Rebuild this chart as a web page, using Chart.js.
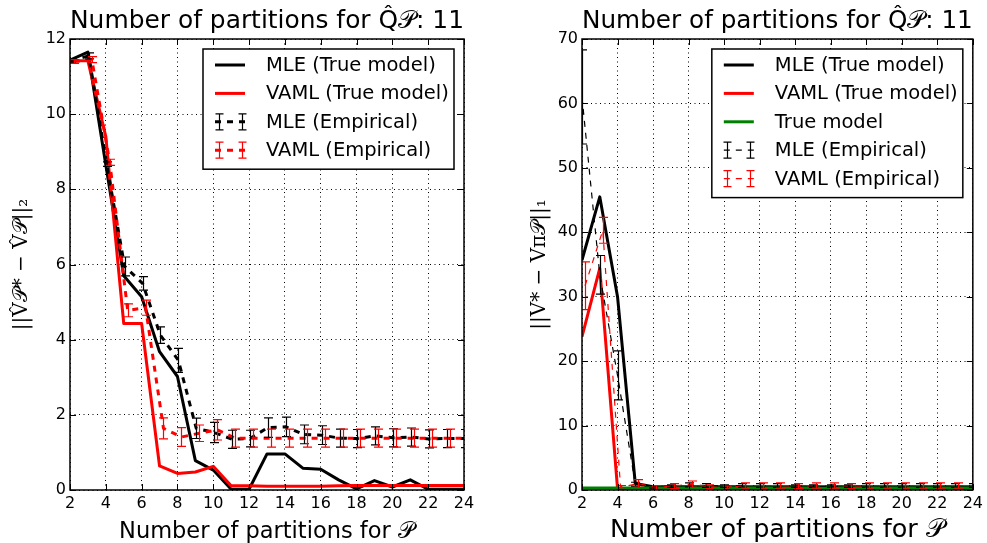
<!DOCTYPE html>
<html>
<head>
<meta charset="utf-8">
<script src="https://cdn.jsdelivr.net/npm/chart.js@4.4.1/dist/chart.umd.min.js"></script>
<style>
  html, body { margin: 0; padding: 0; background: #fff; }
  #wrap { position: relative; width: 987px; height: 543px; overflow: hidden; }
  #wrap canvas { position: absolute; top: 0; }
</style>
</head>
<body>
<div id="wrap">
  <canvas id="leftChart" width="493" height="543" style="left:0"></canvas>
  <canvas id="rightChart" width="494" height="543" style="left:493px"></canvas>
</div>
<script>
"use strict";

/* ── data ─────────────────────────────────────────────── */
const partitions = [2, 3, 4, 5, 6, 7, 8, 9, 10, 11, 12, 13, 14, 15, 16, 17, 18, 19, 20, 21, 22, 23, 24];
const xTickVals = [2, 4, 6, 8, 10, 12, 14, 16, 18, 20, 22, 24];
const yTickValsL = [0, 2, 4, 6, 8, 10, 12];
const yTickValsR = [0, 10, 20, 30, 40, 50, 60, 70];

// left panel: ||V_P* - V_P||_2
const mleTrueL  = [11.44, 11.65, 8.65, 5.7, 5.14, 3.68, 3.02, 0.78, 0.53, 0.02, 0.02, 0.96, 0.96, 0.58, 0.55, 0.27, 0.03, 0.25, 0.08, 0.27, 0.02, 0.02, 0.02];
const vamlTrueL = [11.42, 11.42, 9.4, 4.43, 4.43, 0.64, 0.44, 0.48, 0.63, 0.11, 0.11, 0.1, 0.1, 0.1, 0.1, 0.11, 0.12, 0.12, 0.12, 0.12, 0.12, 0.12, 0.12];
const mleEmpL   = [11.42, 11.55, 8.67, 5.95, 5.5, 4.12, 3.45, 1.64, 1.53, 1.35, 1.37, 1.66, 1.68, 1.48, 1.46, 1.38, 1.37, 1.44, 1.39, 1.41, 1.36, 1.37, 1.37];
const mleErrL   = [0.04, 0.08, 0.06, 0.25, 0.18, 0.22, 0.32, 0.27, 0.27, 0.24, 0.22, 0.26, 0.26, 0.25, 0.25, 0.24, 0.24, 0.24, 0.24, 0.24, 0.24, 0.24, 0.24];
const vamlEmpL  = [11.4, 11.45, 8.72, 4.78, 4.85, 1.64, 1.41, 1.51, 1.6, 1.38, 1.38, 1.38, 1.38, 1.38, 1.38, 1.38, 1.38, 1.38, 1.38, 1.38, 1.38, 1.38, 1.38];
const vamlErrL  = [0.05, 0.08, 0.08, 0.17, 0.2, 0.28, 0.25, 0.22, 0.27, 0.24, 0.24, 0.24, 0.24, 0.24, 0.24, 0.24, 0.24, 0.24, 0.24, 0.24, 0.24, 0.24, 0.24];
const empShiftL = [0.05, 0.22];   // x jitter of the empirical curves (MLE, VAML)

// right panel: ||V* - V^pi_P||_1
const mleTrueR  = [35.7, 45.5, 30.0, 1.0, 0.5, 0.5, 0.5, 0.5, 0.5, 0.5, 0.5, 0.5, 0.5, 0.5, 0.5, 0.5, 0.5, 0.5, 0.5, 0.5, 0.5, 0.5, 0.5];
const vamlTrueR = [23.8, 34.4, 0.2, 0.2, 0.2, 0.2, 0.2, 0.2, 0.2, 0.2, 0.2, 0.2, 0.2, 0.2, 0.2, 0.2, 0.2, 0.2, 0.2, 0.2, 0.2, 0.2, 0.2];
const trueModelR = [0.3, 0.3, 0.3, 0.3, 0.3, 0.3, 0.3, 0.3, 0.3, 0.3, 0.3, 0.3, 0.3, 0.3, 0.3, 0.3, 0.3, 0.3, 0.3, 0.3, 0.3, 0.3, 0.3];
const mleEmpR   = [61.0, 33.4, 17.8, 0.9, 0.5, 0.6, 0.8, 0.7, 0.6, 0.7, 0.7, 0.7, 0.6, 0.6, 0.6, 0.6, 0.7, 0.7, 0.7, 0.7, 0.7, 0.7, 0.7];
const mleErrR   = [7.3, 3.0, 3.8, 0.3, 0.2, 0.2, 0.3, 0.3, 0.2, 0.3, 0.3, 0.3, 0.2, 0.2, 0.2, 0.2, 0.3, 0.3, 0.3, 0.3, 0.3, 0.3, 0.3];
const vamlEmpR  = [31.7, 40.3, 0.4, 1.0, 0.4, 0.6, 0.9, 0.5, 0.3, 0.7, 0.7, 0.7, 0.6, 0.7, 0.7, 0.6, 0.7, 0.7, 0.7, 0.7, 0.7, 0.7, 0.7];
const vamlErrR  = [3.7, 2.0, 0.3, 0.6, 0.3, 0.4, 0.5, 0.3, 0.3, 0.4, 0.4, 0.4, 0.4, 0.4, 0.4, 0.4, 0.4, 0.4, 0.4, 0.4, 0.4, 0.4, 0.4];
const empShiftR = [0.0, 0.17];

const SANS = "'DejaVu Sans', sans-serif";
const SERIF = "'DejaVu Serif', serif";
const P = "\u{1D4AB}";

/* ── helpers ──────────────────────────────────────────── */
function pts(vals, shift) {
  return partitions.map((n, i) => ({ x: n + (shift || 0), y: vals[i] }));
}

function line(label, color, vals, width, extra) {
  return Object.assign({
    label, data: pts(vals), borderColor: color, backgroundColor: color,
    borderWidth: width, pointRadius: 0, tension: 0, fill: false,
    borderJoinStyle: "round"
  }, extra || {});
}

// matplotlib-ish decorations: error bars, frame, inward ticks, boxed legend
const mplPlugin = {
  id: "mpl",
  afterDatasetsDraw(chart) {
    const { ctx, chartArea: a } = chart;
    const x = chart.scales.x, y = chart.scales.y;

    ctx.save();
    ctx.beginPath();
    ctx.rect(a.left, a.top, a.width, a.height);
    ctx.clip();
    chart.data.datasets.forEach(ds => {
      if (!ds.errors) return;
      ctx.strokeStyle = ds.borderColor;
      ctx.lineWidth = 1.2;
      ctx.setLineDash([]);
      ds.data.forEach((p, j) => {
        const e = ds.errors[j];
        const px = Math.round(x.getPixelForValue(p.x)) + 0.5;
        const y0 = y.getPixelForValue(p.y - e), y1 = y.getPixelForValue(p.y + e);
        ctx.beginPath();
        ctx.moveTo(px, y0); ctx.lineTo(px, y1);
        ctx.moveTo(px - 4.5, y0); ctx.lineTo(px + 4.5, y0);
        ctx.moveTo(px - 4.5, y1); ctx.lineTo(px + 4.5, y1);
        ctx.stroke();
      });
    });
    ctx.restore();

    ctx.save();
    ctx.strokeStyle = "#000";
    ctx.lineWidth = 1;
    ctx.beginPath();
    x.ticks.forEach(t => {
      const px = Math.round(x.getPixelForValue(t.value)) + 0.5;
      ctx.moveTo(px, a.bottom); ctx.lineTo(px, a.bottom - 6);
      ctx.moveTo(px, a.top); ctx.lineTo(px, a.top + 6);
    });
    y.ticks.forEach(t => {
      const py = Math.round(y.getPixelForValue(t.value)) + 0.5;
      ctx.moveTo(a.left, py); ctx.lineTo(a.left + 6, py);
      ctx.moveTo(a.right, py); ctx.lineTo(a.right - 6, py);
    });
    ctx.stroke();
    ctx.lineWidth = 1.5;
    ctx.strokeRect(a.left, a.top, a.width, a.height);
    ctx.restore();
  },
  afterDraw(chart) {
    const { ctx, chartArea: a } = chart;
    const sets = chart.data.datasets;
    const rowGap = 28.4;
    const w = 251, h = 16 + (sets.length - 1) * rowGap + 19;
    const bx = a.right - 10 - w, by = a.top + 10;

    ctx.save();
    ctx.fillStyle = "#fff";
    ctx.fillRect(bx, by, w, h);
    ctx.strokeStyle = "#000";
    ctx.lineWidth = 1.5;
    ctx.strokeRect(bx, by, w, h);

    sets.forEach((ds, i) => {
      const ry = by + 16 + i * rowGap;
      const sx0 = bx + 12, sx1 = bx + 42;
      ctx.strokeStyle = ds.borderColor;
      ctx.lineWidth = ds.borderWidth;
      ctx.setLineDash(ds.borderDash || []);
      ctx.beginPath();
      ctx.moveTo(sx0, ry); ctx.lineTo(sx1, ry);
      ctx.stroke();
      if (ds.errors) {
        ctx.setLineDash([]);
        ctx.lineWidth = 1.2;
        [sx0 + 3.5, sx1 - 3.5].forEach(ex => {
          const px = Math.round(ex) + 0.5;
          ctx.beginPath();
          ctx.moveTo(px, ry - 8); ctx.lineTo(px, ry + 8);
          ctx.moveTo(px - 4, ry - 8); ctx.lineTo(px + 4, ry - 8);
          ctx.moveTo(px - 4, ry + 8); ctx.lineTo(px + 4, ry + 8);
          ctx.stroke();
        });
      }
      ctx.setLineDash([]);
      ctx.fillStyle = "#000";
      ctx.font = "19.5px " + SANS;
      ctx.textBaseline = "middle";
      ctx.textAlign = "left";
      ctx.fillText(ds.label, bx + 63, ry + 1);
    });
    ctx.restore();
  }
};

function makeChart(id, cfg) {
  const tickFont = { family: SANS, size: 16 };
  const grid = { color: "#000", lineWidth: 1, drawTicks: false, borderDash: [1, 3.5] };
  const border = { display: false, dash: [1, 3.5] };
  return new Chart(document.getElementById(id), {
    type: "line",
    data: { datasets: cfg.datasets },
    options: {
      responsive: false,
      animation: false,
      devicePixelRatio: 1,
      layout: { padding: { left: 0, right: cfg.padRight, top: 0, bottom: 0 } },
      plugins: {
        legend: { display: false },
        tooltip: { enabled: false },
        title: {
          display: true, text: cfg.title, fullSize: false, color: "#000",
          font: { family: SANS, size: 25, weight: "normal" },
          padding: { top: 6, bottom: 3 }
        }
      },
      scales: {
        x: {
          type: "linear", min: 2, max: 24,
          afterBuildTicks: s => { s.ticks = xTickVals.map(v => ({ value: v })); },
          afterFit: s => { s.height = 53; },
          grid, border,
          ticks: { font: tickFont, color: "#000", padding: 4, maxRotation: 0, autoSkip: false, callback: v => String(v) },
          title: {
            display: true, text: cfg.xTitle, color: "#000",
            font: { family: SANS, size: cfg.xTitleSize, lineHeight: 1 },
            padding: { top: cfg.xTitlePad, bottom: 0 }
          }
        },
        y: {
          type: "linear", min: 0, max: cfg.yMax,
          afterBuildTicks: s => { s.ticks = cfg.yTicks.map(v => ({ value: v })); },
          afterFit: s => { s.width = cfg.yWidth; },
          grid, border,
          ticks: { font: tickFont, color: "#000", padding: 4, callback: v => String(v) },
          title: {
            display: true, text: cfg.yTitle, color: "#000",
            font: { family: SERIF, size: 20, lineHeight: 1 },
            padding: { top: cfg.yTitlePad, bottom: 0 }
          }
        }
      }
    },
    plugins: [mplPlugin]
  });
}

/* ── charts ───────────────────────────────────────────── */
const leftSets = [
  line("MLE (True model)", "#000000", mleTrueL, 3, { order: 4 }),
  line("VAML (True model)", "#ff0000", vamlTrueL, 3, { order: 3 }),
  line("MLE (Empirical)", "#000000", mleEmpL, 3,
    { order: 2, borderDash: [6, 6], data: pts(mleEmpL, empShiftL[0]), errors: mleErrL }),
  line("VAML (Empirical)", "#ff0000", vamlEmpL, 3,
    { order: 1, borderDash: [6, 6], data: pts(vamlEmpL, empShiftL[1]), errors: vamlErrL })
];

const rightSets = [
  line("MLE (True model)", "#000000", mleTrueR, 3, { order: 5 }),
  line("VAML (True model)", "#ff0000", vamlTrueR, 3, { order: 4 }),
  line("True model", "#008000", trueModelR, 3, { order: 3 }),
  line("MLE (Empirical)", "#000000", mleEmpR, 1.2,
    { order: 2, borderDash: [6, 6], data: pts(mleEmpR, empShiftR[0]), errors: mleErrR }),
  line("VAML (Empirical)", "#ff0000", vamlEmpR, 1.2,
    { order: 1, borderDash: [6, 6], data: pts(vamlEmpR, empShiftR[1]), errors: vamlErrR })
];

makeChart("leftChart", {
  datasets: leftSets,
  padRight: 29,
  yWidth: 70, yMax: 12, yTicks: yTickValsL,
  title: "Number of partitions for Q\u0302" + P + ": 11",
  xTitle: "Number of partitions for " + P, xTitleSize: 22.5, xTitlePad: 1,
  yTitle: "||V\u0302" + P + "* \u2212 V\u0302" + P + "||\u2082", yTitlePad: 12
});

makeChart("rightChart", {
  datasets: rightSets,
  padRight: 12,
  yWidth: 89, yMax: 70, yTicks: yTickValsR,
  title: "Number of partitions for Q\u0302" + P + ": 11",
  xTitle: "Number of partitions for " + P, xTitleSize: 25.5, xTitlePad: 0,
  yTitle: "||V* \u2212 V\u03C0" + P + "||\u2081", yTitlePad: 37
});
</script>
</body>
</html>
